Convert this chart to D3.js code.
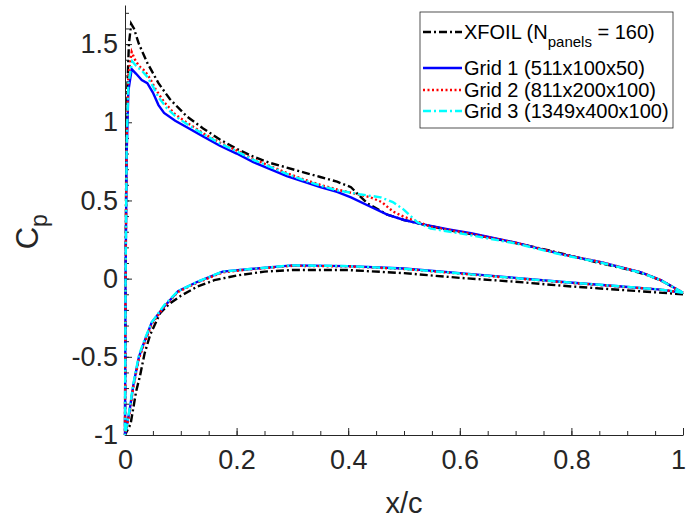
<!DOCTYPE html>
<html>
<head>
<meta charset="utf-8">
<script src="https://cdn.jsdelivr.net/npm/d3@7"></script>
<style>
  body { margin: 0; background: #fff; }
  svg { font-family: "Liberation Sans", Arial, sans-serif; }
</style>
</head>
<body>
<div id="chart"></div>
<script>
// [x/c, Cp] pairs, leading edge -> trailing edge
const xfoilUpper = [[0, -1.0], [0.0005, -0.5], [0.001, 0.0], [0.002, 0.6], [0.004, 1.2], [0.007, 1.5], [0.011, 1.63], [0.016, 1.6], [0.025, 1.5], [0.04, 1.38], [0.06, 1.25], [0.08, 1.15], [0.11, 1.04], [0.14, 0.96], [0.17, 0.89], [0.2, 0.83], [0.23, 0.78], [0.26, 0.74], [0.29, 0.71], [0.32, 0.68], [0.35, 0.65], [0.38, 0.62], [0.405, 0.585], [0.42, 0.53], [0.435, 0.48], [0.47, 0.41], [0.5, 0.375], [0.53, 0.35], [0.58, 0.31], [0.62, 0.285], [0.67, 0.25], [0.71, 0.22], [0.76, 0.18], [0.8, 0.145], [0.85, 0.10], [0.9, 0.06], [0.93, 0.03], [0.96, -0.01], [0.98, -0.05], [1.0, -0.1]];
const xfoilLower = [[0, -1.0], [0.01, -0.93], [0.02, -0.72], [0.027, -0.62], [0.035, -0.48], [0.045, -0.36], [0.063, -0.22], [0.08, -0.16], [0.1, -0.11], [0.13, -0.05], [0.16, -0.01], [0.2, 0.02], [0.25, 0.045], [0.3, 0.055], [0.4, 0.055], [0.5, 0.035], [0.6, 0.005], [0.7, -0.02], [0.8, -0.05], [0.9, -0.075], [1.0, -0.1]];

const grid1Upper = [[0, -1.0], [0.001, 0.0], [0.003, 0.8], [0.006, 1.2], [0.012, 1.34], [0.02, 1.31], [0.03, 1.27], [0.04, 1.25], [0.05, 1.19], [0.06, 1.11], [0.07, 1.06], [0.09, 1.01], [0.11, 0.97], [0.14, 0.91], [0.17, 0.85], [0.2, 0.8], [0.23, 0.745], [0.26, 0.70], [0.29, 0.655], [0.32, 0.62], [0.35, 0.585], [0.38, 0.555], [0.405, 0.52], [0.44, 0.46], [0.47, 0.41], [0.5, 0.375], [0.53, 0.35], [0.58, 0.315], [0.62, 0.29], [0.7, 0.23], [0.78, 0.158], [0.853, 0.105], [0.925, 0.04], [0.96, -0.01], [0.985, -0.06], [1.0, -0.09]];
const grid1Lower = [[0, -1.0], [0.008, -0.85], [0.015, -0.68], [0.025, -0.5], [0.035, -0.4], [0.048, -0.28], [0.07, -0.18], [0.095, -0.08], [0.13, -0.02], [0.175, 0.045], [0.22, 0.06], [0.3, 0.085], [0.4, 0.08], [0.5, 0.065], [0.6, 0.035], [0.7, 0.005], [0.78, -0.02], [0.89, -0.05], [0.96, -0.07], [1.0, -0.09]];

const grid2Upper = [[0, -1.0], [0.001, 0.0], [0.003, 0.9], [0.006, 1.3], [0.012, 1.45], [0.018, 1.40], [0.025, 1.36], [0.035, 1.33], [0.045, 1.28], [0.055, 1.21], [0.07, 1.13], [0.09, 1.05], [0.11, 1.0], [0.14, 0.93], [0.17, 0.87], [0.2, 0.82], [0.23, 0.765], [0.26, 0.72], [0.29, 0.675], [0.32, 0.635], [0.35, 0.6], [0.38, 0.57], [0.41, 0.545], [0.44, 0.52], [0.46, 0.49], [0.48, 0.43], [0.5, 0.395], [0.52, 0.37], [0.55, 0.33], [0.6, 0.30], [0.7, 0.23], [0.78, 0.158], [0.853, 0.105], [0.925, 0.04], [0.96, -0.01], [0.985, -0.06], [1.0, -0.09]];
const grid2Lower = [[0, -1.0], [0.008, -0.86], [0.015, -0.69], [0.025, -0.51], [0.035, -0.41], [0.048, -0.29], [0.07, -0.18], [0.095, -0.085], [0.13, -0.025], [0.175, 0.04], [0.22, 0.058], [0.3, 0.082], [0.4, 0.078], [0.5, 0.062], [0.6, 0.032], [0.7, 0.002], [0.78, -0.022], [0.89, -0.052], [0.96, -0.07], [1.0, -0.09]];

const grid3Upper = [[0, -1.0], [0.001, 0.0], [0.003, 0.85], [0.006, 1.25], [0.013, 1.39], [0.02, 1.36], [0.03, 1.33], [0.04, 1.29], [0.05, 1.23], [0.06, 1.16], [0.075, 1.09], [0.09, 1.04], [0.11, 0.99], [0.14, 0.925], [0.17, 0.865], [0.2, 0.815], [0.23, 0.76], [0.26, 0.715], [0.29, 0.67], [0.32, 0.63], [0.35, 0.595], [0.38, 0.565], [0.42, 0.54], [0.458, 0.52], [0.48, 0.49], [0.5, 0.44], [0.524, 0.36], [0.548, 0.32], [0.6, 0.29], [0.7, 0.225], [0.78, 0.155], [0.853, 0.102], [0.925, 0.038], [0.96, -0.01], [0.985, -0.06], [1.0, -0.09]];
const grid3Lower = [[0, -1.0], [0.008, -0.84], [0.015, -0.67], [0.025, -0.49], [0.035, -0.39], [0.048, -0.28], [0.07, -0.17], [0.095, -0.08], [0.13, -0.02], [0.175, 0.045], [0.22, 0.06], [0.3, 0.085], [0.4, 0.08], [0.5, 0.063], [0.6, 0.033], [0.7, 0.003], [0.78, -0.02], [0.89, -0.05], [0.96, -0.07], [1.0, -0.09]];

const seriesNames = ["XFOIL", "Grid 1 (511x100x50)", "Grid 2 (811x200x100)", "Grid 3 (1349x400x100)"];
const xTicks = [0, 0.2, 0.4, 0.6, 0.8, 1];
const yTicks = [-1, -0.5, 0, 0.5, 1, 1.5];

const width = 686,
  height = 527,
  margin = { top: 5, right: 3, bottom: 92, left: 125 };

const svg = d3
  .select("#chart")
  .append("svg")
  .attr("width", width)
  .attr("height", height);

const x = d3.scaleLinear().domain([0, 1]).range([margin.left, width - margin.right]);
const y = d3.scaleLinear().domain([-1, 1.75]).range([height - margin.bottom, margin.top]);

const axisColor = "#262626";
const plainNum = (d) => String(d); // keep the hyphen-minus like the original

// minor ticks first (inward)
svg.append("g")
  .attr("transform", `translate(0,${y(-1)})`)
  .call(d3.axisBottom(x).tickValues(d3.range(0, 1.0001, 0.05)).tickSize(-4).tickFormat(""))
  .call((g) => g.select(".domain").remove())
  .call((g) => g.selectAll("line").attr("stroke", axisColor));

svg.append("g")
  .attr("transform", `translate(${x(0)},0)`)
  .call(d3.axisLeft(y).tickValues(d3.range(-1, 1.7501, 0.1)).tickSize(-4).tickFormat(""))
  .call((g) => g.select(".domain").remove())
  .call((g) => g.selectAll("line").attr("stroke", axisColor));

// major axes
const xAxis = svg.append("g")
  .attr("transform", `translate(0,${y(-1)})`)
  .call(d3.axisBottom(x).tickValues(xTicks).tickSize(-7).tickSizeOuter(0).tickPadding(15).tickFormat(plainNum));
xAxis.select(".domain").attr("stroke", axisColor);
xAxis.selectAll("line").attr("stroke", axisColor);
xAxis.selectAll("text").attr("fill", axisColor).style("font-size", "27px");
// last label sits on the window edge
xAxis.selectAll("text").filter((d) => d === 1).attr("dx", -5);

const yAxis = svg.append("g")
  .attr("transform", `translate(${x(0)},0)`)
  .call(d3.axisLeft(y).tickValues(yTicks).tickSize(-7).tickSizeOuter(0).tickPadding(7).tickFormat(plainNum));
yAxis.select(".domain").attr("stroke", axisColor);
yAxis.selectAll("line").attr("stroke", axisColor);
yAxis.selectAll("text").attr("fill", axisColor).style("font-size", "27px");

// axis labels
svg.append("text")
  .attr("x", x(0.5))
  .attr("y", 513)
  .attr("text-anchor", "middle")
  .attr("fill", axisColor)
  .style("font-size", "29px")
  .text("x/c");

const yLabel = svg.append("text")
  .attr("transform", `translate(38,${y(0.3)}) rotate(-90)`)
  .attr("text-anchor", "middle")
  .attr("fill", axisColor)
  .style("font-size", "31px");
yLabel.append("tspan").text("C");
yLabel.append("tspan").attr("dy", 9).style("font-size", "23px").text("p");

const series = [
  { name: seriesNames[0], upper: xfoilUpper, lower: xfoilLower, color: "#000000", dash: "8,3,2,3" },
  { name: seriesNames[1], upper: grid1Upper, lower: grid1Lower, color: "#0000ff", dash: null },
  { name: seriesNames[2], upper: grid2Upper, lower: grid2Lower, color: "#ff0000", dash: "2,2.5" },
  { name: seriesNames[3], upper: grid3Upper, lower: grid3Lower, color: "#00ffff", dash: "8,3,2,3" },
];

const line = d3.line().x((d) => x(d[0])).y((d) => y(d[1]));

for (let s of series) {
  // go around the section: trailing edge lower -> leading edge -> trailing edge upper
  const loop = s.lower.slice().reverse().concat(s.upper.slice(1));
  svg.append("path")
    .datum(loop)
    .attr("d", line)
    .attr("fill", "none")
    .attr("stroke", s.color)
    .attr("stroke-width", 2.4)
    .attr("stroke-dasharray", s.dash);
}

// legend
const legend = svg.append("g").attr("transform", "translate(420,12)");
legend.append("rect")
  .attr("width", 253)
  .attr("height", 116)
  .attr("fill", "#fff")
  .attr("stroke", axisColor)
  .attr("stroke-width", 0.8);

const rowY = [20, 56, 78, 99];
series.forEach((s, i) => {
  const g = legend.append("g").attr("transform", `translate(0,${rowY[i]})`);
  g.append("line")
    .attr("x1", 3).attr("x2", 42)
    .attr("stroke", s.color)
    .attr("stroke-width", 2.4)
    .attr("stroke-dasharray", s.dash);
  const t = g.append("text")
    .attr("x", 44)
    .attr("dy", "0.35em")
    .attr("fill", "#000")
    .style("font-size", "20px");
  if (i === 0) {
    t.append("tspan").text("XFOIL (N");
    t.append("tspan").attr("dy", 8).style("font-size", "15px").text("panels");
    t.append("tspan").attr("dy", -8).text(" = 160)");
  } else {
    t.text(s.name);
  }
});
</script>
</body>
</html>
